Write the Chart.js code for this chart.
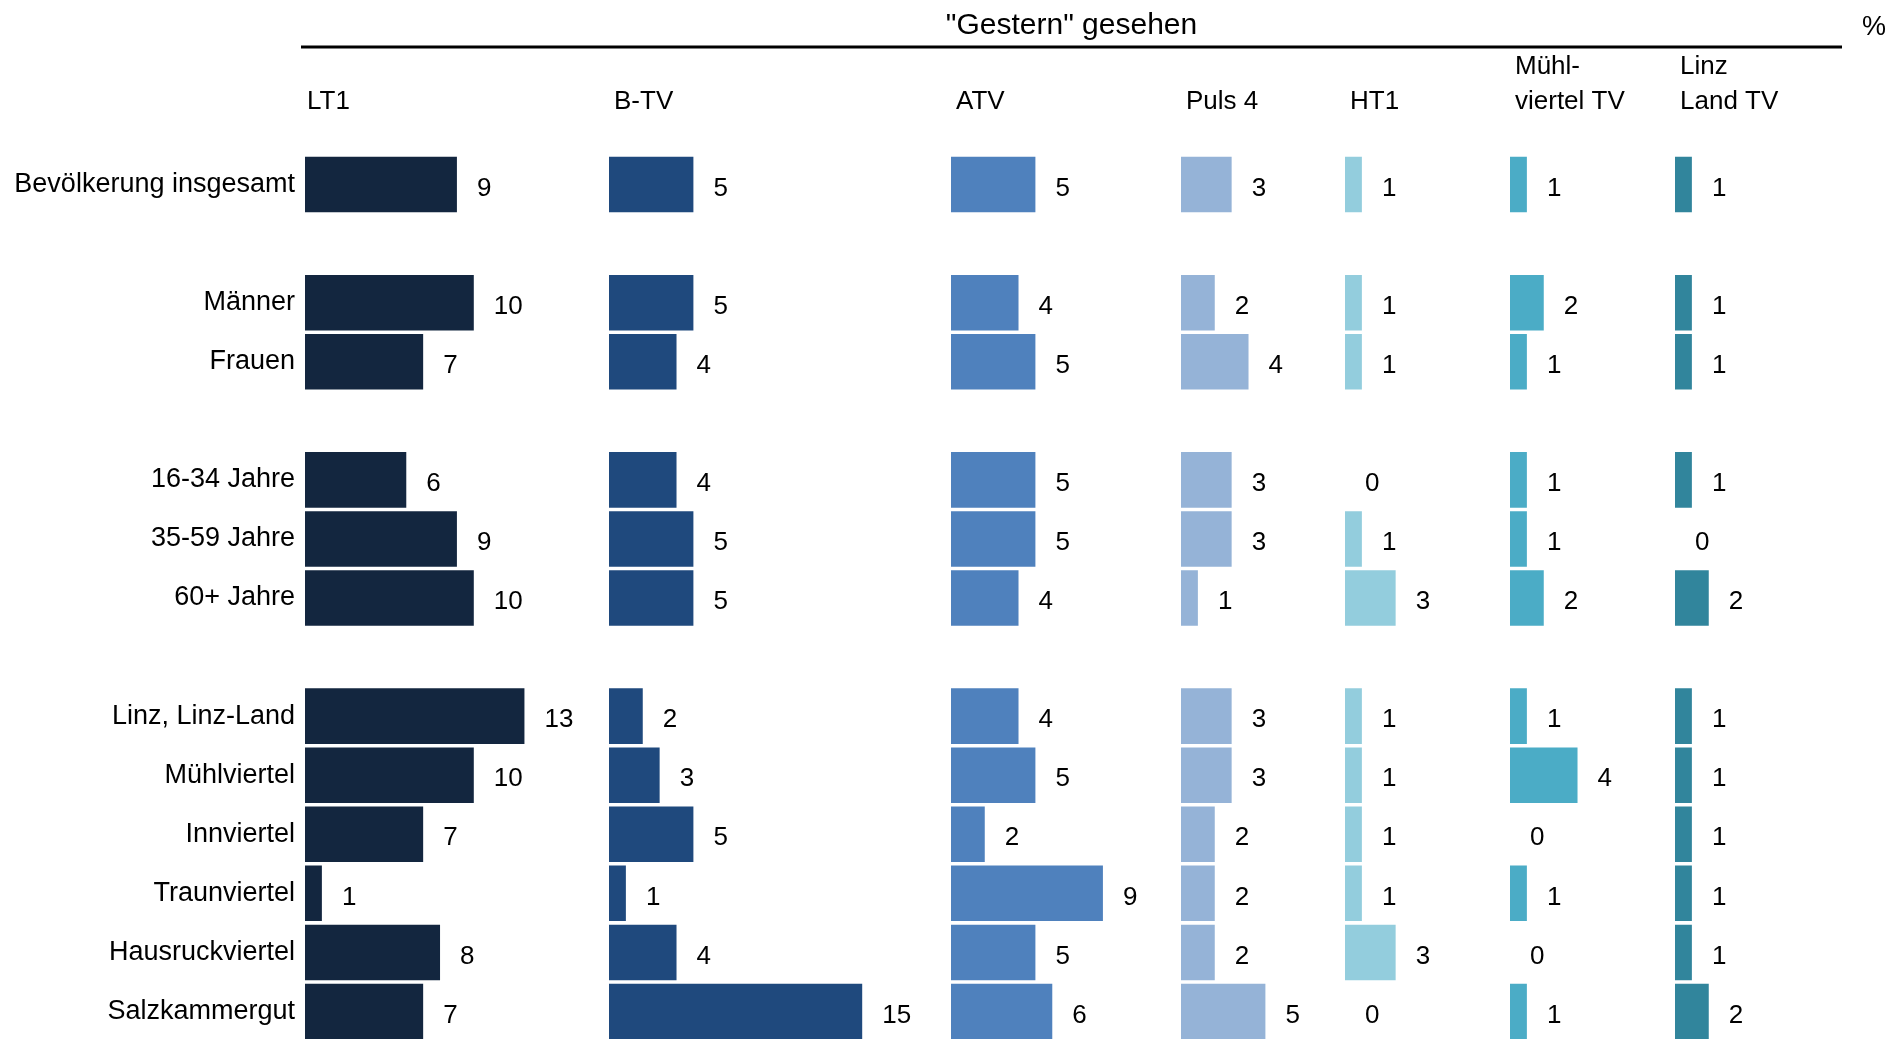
<!DOCTYPE html>
<html>
<head>
<meta charset="utf-8">
<title>"Gestern" gesehen</title>
<script src="https://cdn.jsdelivr.net/npm/chart.js"></script>
<style>
  html, body { margin: 0; padding: 0; background: #fff; overflow: hidden; }
  #wrap { position: relative; width: 1890px; height: 1045px; }
</style>
</head>
<body>
<div id="wrap"><canvas id="chart" width="1890" height="1045"></canvas></div>
<script>
// rows ('' = spacer row between groups)
const categories = ['Bevölkerung insgesamt', '', 'Männer', 'Frauen', '', '16-34 Jahre', '35-59 Jahre', '60+ Jahre', '',
    'Linz, Linz-Land', 'Mühlviertel', 'Innviertel', 'Traunviertel', 'Hausruckviertel', 'Salzkammergut'];

// station headers (one entry per line)
const stations = [['LT1'], ['B-TV'], ['ATV'], ['Puls 4'], ['HT1'], ['Mühl-', 'viertel TV'], ['Linz', 'Land TV']];

// % "gestern" gesehen, per station
const lt1      = [9, null, 10, 7, null, 6, 9, 10, null, 13, 10, 7, 1, 8, 7];
const btv      = [5, null, 5, 4, null, 4, 5, 5, null, 2, 3, 5, 1, 4, 15];
const atv      = [5, null, 4, 5, null, 5, 5, 4, null, 4, 5, 2, 9, 5, 6];
const puls4    = [3, null, 2, 4, null, 3, 3, 1, null, 3, 3, 2, 2, 2, 5];
const ht1      = [1, null, 1, 1, null, 0, 1, 3, null, 1, 1, 1, 1, 3, 0];
const muehlTv  = [1, null, 2, 1, null, 1, 1, 2, null, 1, 4, 0, 1, 0, 1];
const linzTv   = [1, null, 1, 1, null, 1, 0, 2, null, 1, 1, 1, 1, 1, 2];

const seriesValues = [lt1, btv, atv, puls4, ht1, muehlTv, linzTv];
const colors = ['#13263f', '#1f497d', '#4f81bd', '#95b3d7', '#93cddd', '#4bacc6', '#31859c'];

// layout: width of each station panel in px, and px per percent point
const panelWidths = [304, 342, 230, 164, 165, 165, 167];
const pxPerUnit = 16.88;
const FONT = '"Liberation Sans", Arial, sans-serif';

Chart.defaults.font.family = FONT;
Chart.defaults.color = '#000';

const scales = {
    y: {
        type: 'category',
        labels: categories,
        grid: { display: false, drawTicks: false },
        border: { display: false },
        ticks: { padding: 10, font: { size: 27 }, color: '#000', autoSkip: false },
        afterFit: function(scale) {
            scale.width = 305;
            // no extra room for half-labels at top/bottom
            scale.paddingTop = 0;
            scale.paddingBottom = 0;
        }
    }
};
panelWidths.forEach(function(w, i) {
    scales['x' + i] = {
        type: 'linear',
        position: 'bottom',
        stack: 'panels',
        stackWeight: w,
        min: 0,
        max: w / pxPerUnit,
        display: false,
        afterFit: function(scale) { scale.height = 0; }
    };
});

const datasets = seriesValues.map(function(values, i) {
    return {
        label: stations[i].join(' '),
        data: values,
        xAxisID: 'x' + i,
        yAxisID: 'y',
        backgroundColor: colors[i],
        borderWidth: 0,
        grouped: false,
        barPercentage: 0.94,
        categoryPercentage: 1.0
    };
});

// value labels next to bars, headers, title, rule and % sign
const decorations = {
    id: 'decorations',
    afterDatasetsDraw: function(chart) {
        const ctx = chart.ctx;
        ctx.save();
        ctx.fillStyle = '#000';
        ctx.font = '26px ' + FONT;
        ctx.textBaseline = 'middle';
        ctx.textAlign = 'left';
        chart.data.datasets.forEach(function(ds, i) {
            const meta = chart.getDatasetMeta(i);
            meta.data.forEach(function(bar, j) {
                const v = ds.data[j];
                if (v === null || v === undefined) return;
                ctx.fillText(String(v), bar.x + 20, bar.y + 4);
            });
        });

        // station headers
        panelWidths.forEach(function(w, i) {
            const sc = chart.scales['x' + i];
            const lines = stations[i];
            lines.forEach(function(line, k) {
                const y = 102 - (lines.length - 1 - k) * 35;
                ctx.fillText(line, sc.left + (i === 0 ? 2 : 5), y);
            });
        });

        // rule + title
        const left = chart.chartArea.left - 4;
        const right = chart.chartArea.right;
        ctx.strokeStyle = '#000';
        ctx.lineWidth = 3;
        ctx.beginPath();
        ctx.moveTo(left, 47);
        ctx.lineTo(right, 47);
        ctx.stroke();

        ctx.font = '30px ' + FONT;
        ctx.textAlign = 'center';
        ctx.fillText('"Gestern" gesehen', (left + right) / 2, 26);
        ctx.font = '27px ' + FONT;
        ctx.fillText('%', right + 32, 28);
        ctx.restore();
    }
};

new Chart(document.getElementById('chart'), {
    type: 'bar',
    data: { labels: categories, datasets: datasets },
    options: {
        indexAxis: 'y',
        responsive: false,
        animation: false,
        layout: { padding: { top: 155, bottom: 4, left: 0, right: 48 } },
        plugins: {
            legend: { display: false },
            tooltip: { enabled: false }
        },
        scales: scales
    },
    plugins: [decorations]
});
</script>
</body>
</html>
